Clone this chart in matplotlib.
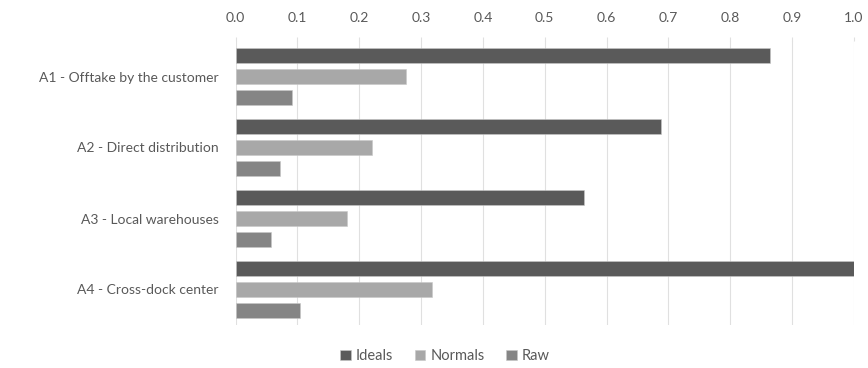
import matplotlib
matplotlib.use("Agg")
import matplotlib.pyplot as plt
import numpy as np

categories = ["A1 - Offtake by the customer", "A2 - Direct distribution",
              "A3 - Local warehouses", "A4 - Cross-dock center"]
series_names = ["Ideals", "Normals", "Raw"]
ideals = [0.864, 0.688, 0.564, 1.000]
normals = [0.275, 0.220, 0.181, 0.318]
raw = [0.091, 0.072, 0.058, 0.105]
x_ticks = [0.0, 0.1, 0.2, 0.3, 0.4, 0.5, 0.6, 0.7, 0.8, 0.9, 1.0]

colors = ["#5a5a5a", "#a8a8a8", "#858585"]
text_color = "#595959"

plt.rcParams["font.family"] = ["Lato", "DejaVu Sans"]

fig = plt.figure(figsize=(8.68, 3.68), dpi=100)
ax = fig.add_axes([235.5 / 868, 1 - 325 / 368, (854 - 235.5) / 868, (325 - 41) / 368])

y = np.arange(len(categories))
bar_h = 0.21
offset = 0.29
for i, (name, vals) in enumerate(zip(series_names, [ideals, normals, raw])):
    ax.barh(y + (i - 1) * offset, vals, height=bar_h, color=colors[i],
            edgecolor="#c8c8c8", linewidth=0.4, label=name, zorder=3)

ax.set_xlim(0, 1.0)
ax.set_ylim(len(categories) - 0.5, -0.5)
ax.set_xticks(x_ticks)
ax.set_xticklabels([f"{t:.1f}" for t in x_ticks])
ax.xaxis.tick_top()
ax.tick_params(axis="x", length=3, color="#e0e0e0", labelcolor=text_color,
               labelsize=10, pad=9)
ax.set_yticks(y)
ax.set_yticklabels(categories)
ax.tick_params(axis="y", length=0, labelcolor=text_color, labelsize=10, pad=12)
ax.grid(axis="x", color="#e0e0e0", linewidth=0.8, zorder=0)
for s in ax.spines.values():
    s.set_visible(False)

leg = fig.legend(loc="center", bbox_to_anchor=(445 / 868, 1 - 356 / 368), ncol=3,
                 frameon=False, fontsize=10.5, handlelength=0.7, handleheight=0.7,
                 handletextpad=0.35, columnspacing=1.5)
for t in leg.get_texts():
    t.set_color(text_color)

fig.savefig("out.png", dpi=100)
